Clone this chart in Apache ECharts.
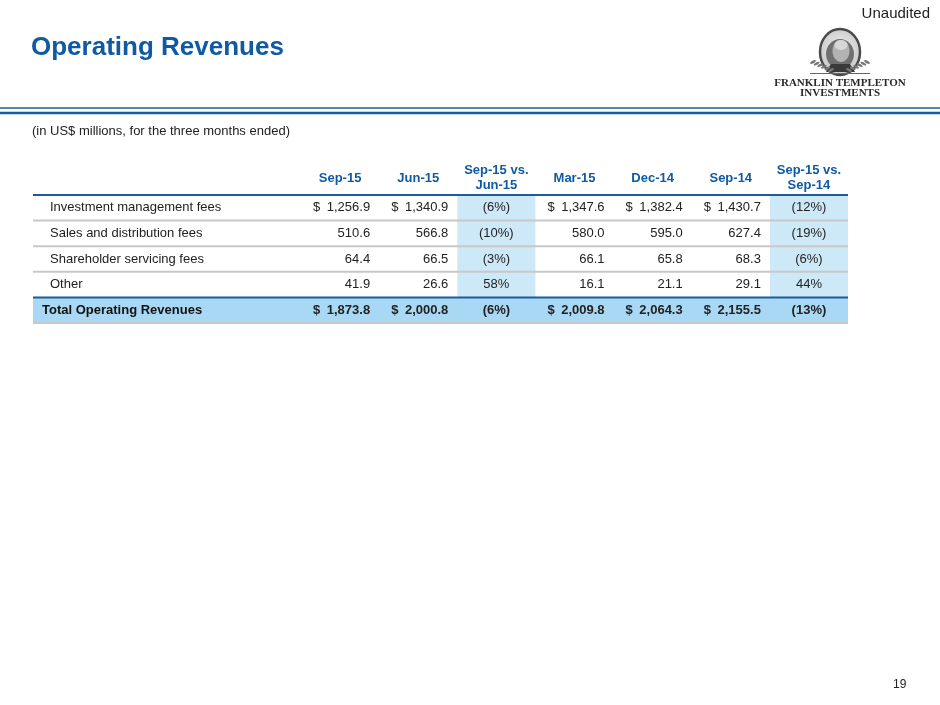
<!DOCTYPE html>
<html>
<head>
    <meta charset="utf-8">
    <title>Operating Revenues</title>
    <script src="https://cdn.jsdelivr.net/npm/echarts@6/dist/echarts.min.js"></script>
    <style>
        html, body { margin: 0; padding: 0; background: #fff; }
        #chart { width: 940px; height: 705px; }
    </style>
</head>
<body>
<div id="chart"></div>
<script type="text/javascript">
    // 表头（期间 + 变动列）
    var columns = ['Sep-15', 'Jun-15', 'Sep-15 vs.\nJun-15', 'Mar-15', 'Dec-14', 'Sep-14', 'Sep-15 vs.\nSep-14'];
    // 'amt' = 金额, 'pct' = 变动百分比
    var columnKind = ['amt', 'amt', 'pct', 'amt', 'amt', 'amt', 'pct'];
    var rowLabels = ['Investment management fees', 'Sales and distribution fees', 'Shareholder servicing fees', 'Other', 'Total Operating Revenues'];

    var investmentMgmtFees = [1256.9, 1340.9, -6, 1347.6, 1382.4, 1430.7, -12];
    var salesDistFees      = [510.6, 566.8, -10, 580.0, 595.0, 627.4, -19];
    var shareholderFees    = [64.4, 66.5, -3, 66.1, 65.8, 68.3, -6];
    var otherRevenues      = [41.9, 26.6, 58, 16.1, 21.1, 29.1, 44];
    var totalRevenues      = [1873.8, 2000.8, -6, 2009.8, 2064.3, 2155.5, -13];

    var tableRows = [investmentMgmtFees, salesDistFees, shareholderFees, otherRevenues, totalRevenues];
    var dollarRows = [0, 4];
    var totalRow = 4;

    var FONT = "'Liberation Sans', Arial, Helvetica, sans-serif";
    var SERIF = "'Liberation Serif', 'DejaVu Serif', serif";
    var BLUE = '#0f5aa3';
    var RULE_BLUE = '#1d5b9c';
    var GRAY = '#c8c8c8';
    var SHADE = '#cde9f7';
    var TOTAL_SHADE = '#a8d8f3';
    var LABEL_W = 268;   // 标签列宽度（在 grid 左侧）

    function fmtAmt(v) {
        return v.toLocaleString('en-US', {minimumFractionDigits: 1, maximumFractionDigits: 1});
    }
    function fmtPct(v) {
        return v < 0 ? '(' + Math.abs(v) + '%)' : v + '%';
    }

    var cellData = [];
    var rowData = [];
    tableRows.forEach(function (row, r) {
        rowData.push([0, r]);
        row.forEach(function (v, c) {
            cellData.push([c, r, v]);
        });
    });

    var myChart = echarts.init(document.getElementById('chart'));

    // 变动列底色
    function renderShade(params, api) {
        var c = api.value(0), r = api.value(1);
        var p = api.coord([c, r]);
        var s = api.size([1, 1]);
        if (r === totalRow || columnKind[c] !== 'pct') return null;
        return {type: 'rect', shape: {x: p[0] - s[0] / 2, y: p[1] - s[1] / 2, width: s[0], height: s[1]}, style: {fill: SHADE}};
    }

    // 合计行底色 + 行分隔线
    function renderRow(params, api) {
        var r = api.value(1);
        var p = api.coord([0, r]);
        var s = api.size([1, 1]);
        var cs = params.coordSys;
        var left = cs.x - LABEL_W, right = cs.x + cs.width;
        var y0 = p[1] - s[1] / 2, y1 = p[1] + s[1] / 2;
        var children = [];
        if (r === totalRow) {
            children.push({type: 'rect', shape: {x: left, y: y0, width: right - left, height: s[1]}, style: {fill: TOTAL_SHADE}});
        }
        if (r === 0 || r === totalRow) {
            children.push({type: 'line', shape: {x1: left, y1: y0, x2: right, y2: y0}, style: {stroke: RULE_BLUE, lineWidth: 2}});
        }
        if (r !== totalRow - 1) {
            children.push({type: 'line', shape: {x1: left, y1: y1, x2: right, y2: y1}, style: {stroke: GRAY, lineWidth: 2}});
        }
        return {type: 'group', children: children};
    }

    // 单元格文字
    function renderCell(params, api) {
        var c = api.value(0), r = api.value(1), v = api.value(2);
        var p = api.coord([c, r]);
        var s = api.size([1, 1]);
        var x0 = p[0] - s[0] / 2, x1 = p[0] + s[0] / 2;
        var weight = r === totalRow ? 'bold' : 'normal';
        var base = {fontSize: 13, fontFamily: FONT, fontWeight: weight, fill: '#222', verticalAlign: 'middle'};
        var children = [];
        if (columnKind[c] === 'pct') {
            children.push({type: 'text', style: Object.assign({x: p[0], y: p[1], text: fmtPct(v), align: 'center'}, base)});
        } else {
            if (dollarRows.indexOf(r) >= 0) {
                children.push({type: 'text', style: Object.assign({x: x0 + 12, y: p[1], text: '$', align: 'left'}, base)});
            }
            children.push({type: 'text', style: Object.assign({x: x1 - 9, y: p[1], text: fmtAmt(v), align: 'right'}, base)});
        }
        return {type: 'group', children: children};
    }

    // 标志（简化）
    var laurel = [];
    for (var i = 0; i < 6; i++) {
        laurel.push({type: 'ellipse', shape: {cx: 831 - i * 3.6, cy: 70 - i * 1.6, rx: 3.2, ry: 1.3}, rotation: 0.5, originX: 831 - i * 3.6, originY: 70 - i * 1.6, style: {fill: '#777'}});
        laurel.push({type: 'ellipse', shape: {cx: 849 + i * 3.6, cy: 70 - i * 1.6, rx: 3.2, ry: 1.3}, rotation: -0.5, originX: 849 + i * 3.6, originY: 70 - i * 1.6, style: {fill: '#777'}});
    }

    myChart.setOption({
        animation: false,
        grid: {left: 301, top: 195, width: 547, height: 128},
        xAxis: {
            type: 'category',
            position: 'top',
            data: columns,
            z: 10,
            axisLine: {show: false},
            axisTick: {show: false},
            splitLine: {show: false},
            axisLabel: {
                interval: 0,
                margin: 17,
                verticalAlign: 'middle',
                lineHeight: 15,
                fontSize: 13,
                fontWeight: 'bold',
                fontFamily: FONT,
                color: BLUE
            }
        },
        yAxis: {
            type: 'category',
            inverse: true,
            data: rowLabels,
            z: 10,
            axisLine: {show: false},
            axisTick: {show: false},
            splitLine: {show: false},
            axisLabel: {
                align: 'left',
                margin: 259,
                formatter: function (v, idx) {
                    return idx === totalRow ? '{b|' + v + '}' : '{n|' + v + '}';
                },
                rich: {
                    n: {fontSize: 13, fontFamily: FONT, color: '#222', padding: [0, 0, 0, 8]},
                    b: {fontSize: 13, fontFamily: FONT, color: '#111', fontWeight: 'bold'}
                }
            }
        },
        series: [
            {type: 'custom', name: 'shade', renderItem: renderShade, data: cellData, z: 1, silent: true},
            {type: 'custom', name: 'rules', renderItem: renderRow, data: rowData, z: 2, silent: true},
            {type: 'custom', name: 'cells', renderItem: renderCell, data: cellData, z: 3, silent: true}
        ],
        graphic: [
            {type: 'text', left: 31, top: 35, style: {text: 'Operating Revenues', fontSize: 26, fontWeight: 'bold', fontFamily: FONT, fill: BLUE}},
            {type: 'text', right: 10, top: 6, style: {text: 'Unaudited', fontSize: 15, fontFamily: FONT, fill: '#222'}},
            {type: 'line', shape: {x1: 0, y1: 108, x2: 940, y2: 108}, style: {stroke: RULE_BLUE, lineWidth: 1.5}},
            {type: 'line', shape: {x1: 0, y1: 113, x2: 940, y2: 113}, style: {stroke: RULE_BLUE, lineWidth: 2.5}},
            {type: 'text', left: 32, top: 125, style: {text: '(in US$ millions, for the three months ended)', fontSize: 13, fontFamily: FONT, fill: '#222'}},
            {type: 'text', left: 893, top: 679, style: {text: '19', fontSize: 12, fontFamily: FONT, fill: '#222'}},
            // logo
            {
                type: 'group',
                children: [
                    {type: 'ellipse', shape: {cx: 840, cy: 52, rx: 20, ry: 23}, style: {
                        fill: new echarts.graphic.RadialGradient(0.5, 0.45, 0.6, [{offset: 0, color: '#f2f2f2'}, {offset: 1, color: '#c4c4c4'}]),
                        stroke: '#4a4a4a', lineWidth: 2.5}},
                    {type: 'ellipse', shape: {cx: 840, cy: 54, rx: 14, ry: 15}, style: {fill: '#707070'}},
                    {type: 'ellipse', shape: {cx: 841, cy: 51, rx: 8.5, ry: 11}, style: {fill: '#b3b3b3'}},
                    {type: 'ellipse', shape: {cx: 841, cy: 45, rx: 6.5, ry: 5}, style: {fill: '#d6d6d6'}},
                    {type: 'polygon', shape: {points: [[826, 72], [831, 64], [850, 64], [855, 72]]}, style: {fill: '#3a3a3a'}}
                ].concat(laurel).concat([
                    {type: 'line', shape: {x1: 810, y1: 73.5, x2: 870, y2: 73.5}, style: {stroke: '#666', lineWidth: 1}},
                    {type: 'text', style: {x: 840, y: 83, text: 'FRANKLIN TEMPLETON', align: 'center', verticalAlign: 'middle', fontSize: 11, fontWeight: 'bold', fontFamily: SERIF, fill: '#2a2a2a'}},
                    {type: 'text', style: {x: 840, y: 93, text: 'INVESTMENTS', align: 'center', verticalAlign: 'middle', fontSize: 11, fontWeight: 'bold', fontFamily: SERIF, fill: '#2a2a2a'}}
                ])
            }
        ]
    });
</script>
</body>
</html>
